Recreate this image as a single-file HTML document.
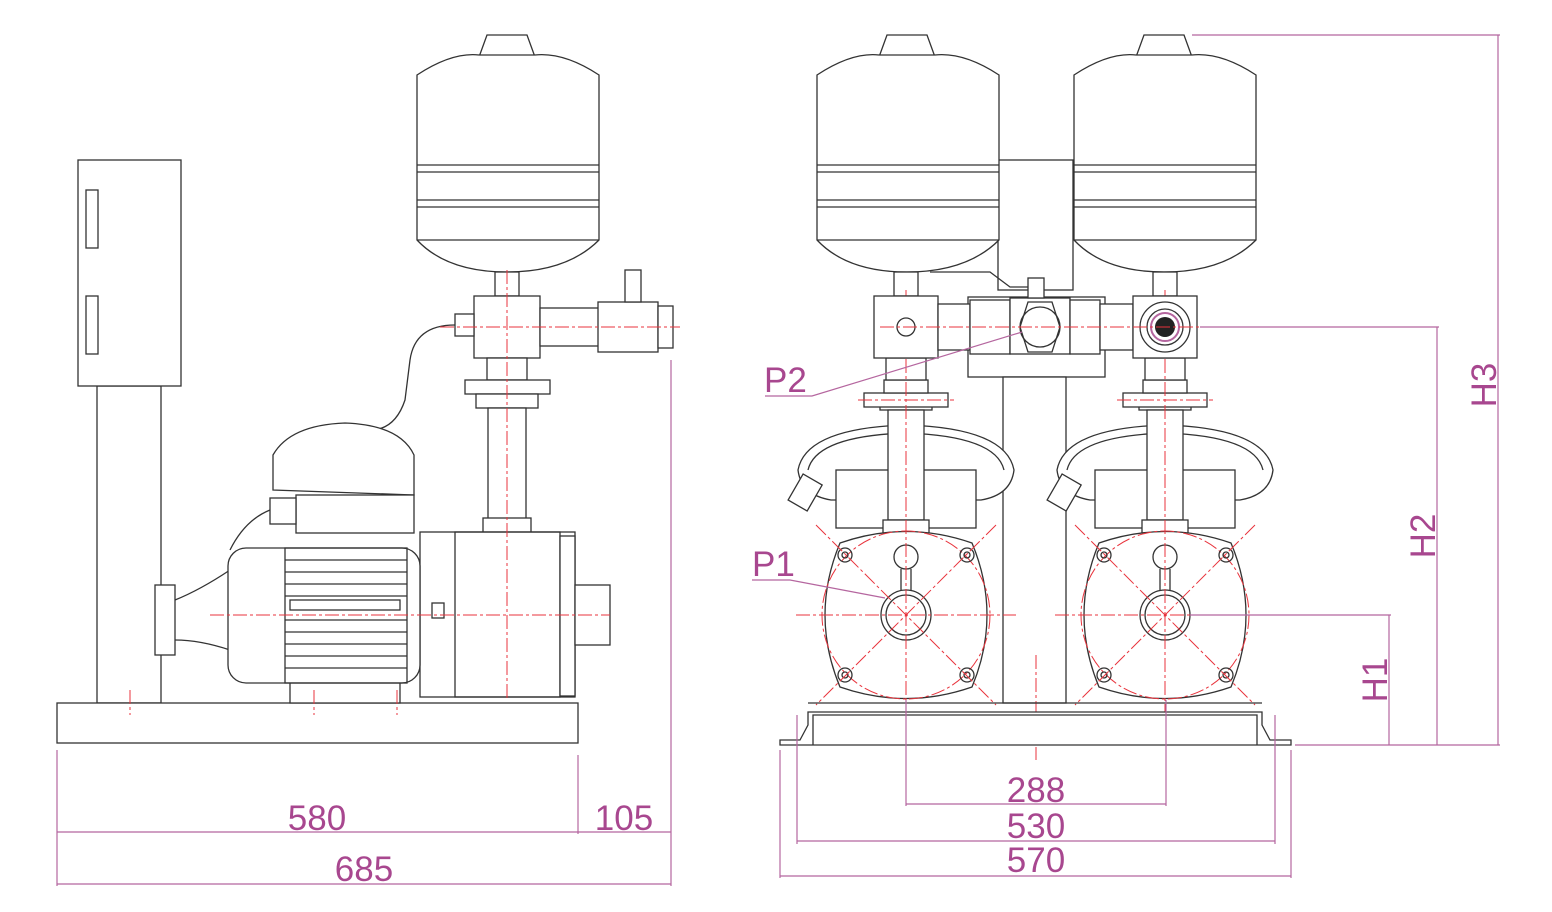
<!DOCTYPE html>
<html><head><meta charset="utf-8"><style>
html,body{margin:0;padding:0;background:#fff}
svg{display:block}
.k{fill:none;stroke:#333;stroke-width:1.3}
.kf{fill:#fff;stroke:#333;stroke-width:1.3}
.c{fill:none;stroke:#e8333c;stroke-width:1;stroke-dasharray:14 3 3 3}
.d{fill:none;stroke:#b5669f;stroke-width:1.2}
.t{fill:#a8478f;font-family:"Liberation Sans",sans-serif;font-size:35px}
</style></head><body>
<svg width="1552" height="912" viewBox="0 0 1552 912" xmlns="http://www.w3.org/2000/svg">
<defs>
<g id="tank">
 <path class="kf" d="M-28 57 L-20 35 L20 35 L28 57 Z"/>
 <path class="kf" d="M-90 75 Q-55 52 -28 55 L28 55 Q57 52 92 75 L92 240 Q60 272 0 272 Q-60 272 -90 240 Z"/>
 <line class="k" x1="-90" y1="165" x2="92" y2="165"/><line class="k" x1="-90" y1="172" x2="92" y2="172"/>
 <line class="k" x1="-90" y1="200" x2="92" y2="200"/><line class="k" x1="-90" y1="207" x2="92" y2="207"/>
 <line class="k" x1="-90" y1="240" x2="92" y2="240"/>
</g>
<g id="unit">
 <rect class="kf" x="-12" y="272" width="24" height="24"/>
 <rect class="kf" x="-26" y="400" width="52" height="10"/>
 <path class="kf" d="M-108 470 Q-100 428 0 425 Q100 428 108 470 Q105 495 75 500 L-75 500 Q-105 495 -108 470 Z"/>
 <path class="k" d="M-98 470 Q-90 436 0 433 Q90 436 98 470"/>
 <rect class="kf" x="-70" y="470" width="140" height="58"/>
 <rect class="kf" x="-112" y="478" width="22" height="30" transform="rotate(30 -100 493)"/>
 <rect class="kf" x="-18" y="410" width="36" height="110"/>
 <rect class="kf" x="-23" y="520" width="46" height="15"/>
 <rect class="kf" x="-42" y="393" width="84" height="14"/>
 <rect class="kf" x="-22" y="380" width="44" height="13"/>
 <rect class="kf" x="-20" y="358" width="40" height="22"/>
 <path class="kf" d="M-66 543 Q0 520 66 543 Q96 615 66 687 Q0 710 -66 687 Q-96 615 -66 543 Z"/>
 <circle class="c" cx="0" cy="615" r="84"/>
 <circle class="kf" cx="0" cy="615" r="25"/><circle class="k" cx="0" cy="615" r="20"/>
 <circle class="kf" cx="0" cy="557" r="12"/>
 <path class="k" d="M-5 569 L-5 590 M5 569 L5 590"/>
 <g class="k">
  <circle cx="-61" cy="555" r="7"/><circle cx="-61" cy="555" r="3"/>
  <circle cx="61" cy="555" r="7"/><circle cx="61" cy="555" r="3"/>
  <circle cx="-61" cy="675" r="7"/><circle cx="-61" cy="675" r="3"/>
  <circle cx="61" cy="675" r="7"/><circle cx="61" cy="675" r="3"/>
 </g>
 <line class="c" x1="0" y1="290" x2="0" y2="712"/>
 <line class="c" x1="-90" y1="525" x2="90" y2="705"/>
 <line class="c" x1="90" y1="525" x2="-90" y2="705"/>
 <line class="c" x1="-110" y1="615" x2="110" y2="615"/>
 <line class="c" x1="-48" y1="400" x2="48" y2="400"/>
</g>
</defs>

<rect class="kf" x="97" y="386" width="64" height="317"/>
<rect class="kf" x="78" y="160" width="103" height="226"/>
<rect class="k" x="86" y="190" width="12" height="58"/><rect class="k" x="86" y="296" width="12" height="58"/>
<rect class="kf" x="155" y="585" width="20" height="70"/>
<path class="k" d="M175 600 Q200 590 230 570 M175 640 Q200 640 230 650"/>
<rect class="kf" x="57" y="703" width="521" height="40"/>
<line class="c" x1="130" y1="690" x2="130" y2="715"/>
<use href="#tank" x="507" y="0"/>
<rect class="kf" x="495" y="272" width="24" height="24"/>
<rect class="kf" x="474" y="296" width="66" height="62"/>
<rect class="kf" x="540" y="308" width="60" height="38"/>
<rect class="kf" x="598" y="302" width="60" height="50"/>
<rect class="kf" x="658" y="306" width="15" height="42"/>
<rect class="kf" x="625" y="270" width="16" height="32"/>
<rect class="kf" x="455" y="314" width="19" height="22"/>
<path class="k" d="M455 325 Q415 325 410 360 L405 400 Q395 430 370 430"/>
<rect class="kf" x="487" y="358" width="40" height="22"/>
<rect class="kf" x="465" y="380" width="85" height="14"/>
<rect class="kf" x="476" y="394" width="62" height="14"/>
<rect class="kf" x="488" y="408" width="38" height="112"/>
<rect class="kf" x="483" y="518" width="48" height="18"/>
<path class="kf" d="M273 490 L273 455 Q290 425 345 423 Q400 425 414 455 L414 495 Z"/>
<rect class="kf" x="296" y="495" width="118" height="38"/>
<rect class="kf" x="270" y="498" width="26" height="26"/>
<path class="k" d="M270 510 Q245 520 230 550"/>
<rect class="kf" x="420" y="532" width="155" height="165"/>
<rect class="k" x="455" y="532" width="105" height="165"/>
<rect class="kf" x="560" y="536" width="15" height="160"/>
<rect class="kf" x="575" y="585" width="35" height="60"/>
<rect class="kf" x="290" y="675" width="110" height="28"/>
<rect class="kf" x="228" y="548" width="192" height="135" rx="18"/>
<rect class="k" x="285" y="548" width="122" height="135"/>
<g class="k">
<line x1="285" y1="560" x2="407" y2="560"/><line x1="285" y1="572" x2="407" y2="572"/><line x1="285" y1="584" x2="407" y2="584"/><line x1="285" y1="596" x2="407" y2="596"/><line x1="285" y1="620" x2="407" y2="620"/><line x1="285" y1="632" x2="407" y2="632"/><line x1="285" y1="644" x2="407" y2="644"/><line x1="285" y1="656" x2="407" y2="656"/><line x1="285" y1="668" x2="407" y2="668"/>
</g>
<rect class="k" x="290" y="600" width="110" height="10"/>
<rect class="k" x="432" y="603" width="12" height="15"/>
<line class="c" x1="210" y1="615" x2="610" y2="615"/>
<line class="c" x1="507" y1="270" x2="507" y2="700"/>
<line class="c" x1="440" y1="327" x2="680" y2="327"/>
<line class="c" x1="314" y1="690" x2="314" y2="715"/><line class="c" x1="397" y1="690" x2="397" y2="715"/>

<rect class="kf" x="998" y="160" width="75" height="130"/>
<rect class="kf" x="968" y="297" width="137" height="80"/>
<rect class="kf" x="1003" y="377" width="63" height="326"/>
<use href="#tank" x="907" y="0"/>
<use href="#tank" x="1164" y="0"/>
<path class="k" d="M930 272 L990 272 L1010 287 L1035 287"/>
<use href="#unit" x="906" y="0"/>
<use href="#unit" x="1165" y="0"/>
<rect class="kf" x="874" y="296" width="64" height="62"/>
<circle class="k" cx="906" cy="327" r="9"/>
<rect class="kf" x="938" y="304" width="32" height="46"/>
<rect class="kf" x="970" y="300" width="40" height="54"/>
<rect class="kf" x="1010" y="298" width="60" height="56"/>
<path class="kf" d="M1020 327 L1028 302 L1052 302 L1060 327 L1052 352 L1028 352 Z"/>
<circle class="k" cx="1040" cy="327" r="20"/>
<rect class="kf" x="1070" y="300" width="30" height="54"/>
<rect class="kf" x="1028" y="278" width="16" height="20"/>
<rect class="kf" x="1100" y="304" width="33" height="46"/>
<rect class="kf" x="1133" y="296" width="64" height="62"/>
<circle class="k" cx="1165" cy="327" r="25"/><circle class="k" cx="1165" cy="327" r="18"/>
<circle cx="1165" cy="327" r="10" fill="#222"/>
<circle cx="1165" cy="327" r="14" fill="none" stroke="#b5669f" stroke-width="2"/>
<line class="c" x1="880" y1="327" x2="1200" y2="327"/>
<line class="c" x1="1036" y1="655" x2="1036" y2="760"/>
<path class="kf" d="M780 740 L800 740 L808 725 L808 712 L1262 712 L1262 725 L1270 740 L1291 740 L1291 745 L780 745 Z"/>
<path class="k" d="M813 745 L813 715 L1257 715 L1257 745"/>
<line class="k" x1="808" y1="703" x2="1262" y2="703"/>

<g class="d">
<line x1="57" y1="750" x2="57" y2="886"/><line x1="578" y1="755" x2="578" y2="834"/><line x1="671" y1="360" x2="671" y2="886"/>
<line x1="57" y1="832" x2="671" y2="832"/><line x1="57" y1="884" x2="671" y2="884"/>
<line x1="780" y1="750" x2="780" y2="878"/><line x1="797" y1="715" x2="797" y2="844"/><line x1="1275" y1="715" x2="1275" y2="844"/><line x1="1291" y1="750" x2="1291" y2="878"/>
<line x1="906" y1="700" x2="906" y2="806"/><line x1="1166" y1="700" x2="1166" y2="806"/>
<line x1="906" y1="804" x2="1166" y2="804"/><line x1="797" y1="841" x2="1275" y2="841"/><line x1="780" y1="876" x2="1291" y2="876"/>
<line x1="1295" y1="745" x2="1500" y2="745"/>
<line x1="1190" y1="615" x2="1391" y2="615"/><line x1="1389" y1="615" x2="1389" y2="745"/>
<line x1="1200" y1="327" x2="1439" y2="327"/><line x1="1437" y1="327" x2="1437" y2="745"/>
<line x1="1192" y1="35" x2="1500" y2="35"/><line x1="1498" y1="35" x2="1498" y2="745"/>
<polyline points="765,396 812,396 1022,332"/>
<polyline points="752,580 790,580 885,598"/>
</g>
<text class="t" x="317" y="830" text-anchor="middle">580</text>
<text class="t" x="624" y="830" text-anchor="middle">105</text>
<text class="t" x="364" y="881" text-anchor="middle">685</text>
<text class="t" x="1036" y="802" text-anchor="middle">288</text>
<text class="t" x="1036" y="838" text-anchor="middle">530</text>
<text class="t" x="1036" y="872" text-anchor="middle">570</text>
<text class="t" x="764" y="392">P2</text>
<text class="t" x="752" y="576">P1</text>
<text class="t" transform="translate(1387 680) rotate(-90)" text-anchor="middle">H1</text>
<text class="t" transform="translate(1435 536) rotate(-90)" text-anchor="middle">H2</text>
<text class="t" transform="translate(1496 385) rotate(-90)" text-anchor="middle">H3</text>
</svg>
</body></html>
